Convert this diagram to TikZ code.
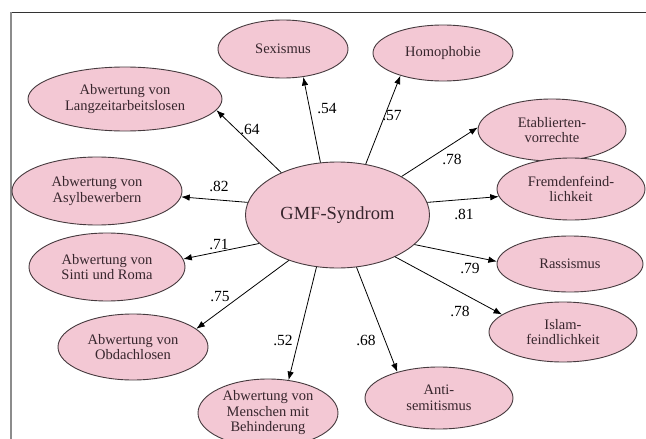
\documentclass[tikz,border=0pt]{standalone}
\usepackage{fontspec}
\setmainfont{Liberation Serif}
\usetikzlibrary{shapes.geometric}
\usetikzlibrary{arrows.meta}

\definecolor{factorpink}{RGB}{243,200,212}
\definecolor{factorline}{RGB}{70,58,62}
\definecolor{factortext}{RGB}{55,38,45}

\tikzset{
  factor/.style={ellipse, draw=factorline, fill=factorpink, line width=0.9pt,
    inner sep=0pt, align=center, text=factortext,
    font=\fontsize{14.5}{15.5}\selectfont},
  loading/.style={font=\fontsize{15.5}{15.5}\selectfont, inner sep=0pt},
  path/.style={line width=0.8pt, -{Latex[length=8.5pt,width=6.5pt]}}
}

\begin{document}
\begin{tikzpicture}[x=1pt,y=-1pt]

\clip (0,0) rectangle (646,439);
\fill[white] (0,0) rectangle (646,439);

% frame
\draw[line width=0.8pt, black!80] (11,12) -- (646,12);
\draw[line width=1.5pt, black!45] (11,12) -- (11,439);

% factors
\node[factor, minimum width=184pt, minimum height=106pt,
      font=\fontsize{18.5}{20}\selectfont] (gmf) at (337.5,215) {GMF-Syndrom};

\node[factor, minimum width=130pt, minimum height=58pt] (sex) at (283,49) {Sexismus};
\node[factor, minimum width=140pt, minimum height=56pt] (homo) at (443,53) {Homophobie};
\node[factor, minimum width=148pt, minimum height=62pt] (etab) at (552,130) {Etablierten-\\vorrechte};
\node[factor, minimum width=148pt, minimum height=62pt] (fremd) at (571,189) {Fremdenfeind-\\lichkeit};
\node[factor, minimum width=146pt, minimum height=56pt] (rass) at (570,264) {Rassismus};
\node[factor, minimum width=148pt, minimum height=60pt] (islam) at (563,332) {Islam-\\feindlichkeit};
\node[factor, minimum width=148pt, minimum height=62pt] (anti) at (439,398) {Anti-\\semitismus};
\node[factor, minimum width=140pt, minimum height=68pt] (behind) at (268,413) {Abwertung von\\Menschen mit\\Behinderung};
\node[factor, minimum width=150pt, minimum height=66pt] (obdach) at (133,347) {Abwertung von\\Obdachlosen};
\node[factor, minimum width=156pt, minimum height=68pt] (sinti) at (107,267) {Abwertung von\\Sinti und Roma};
\node[factor, minimum width=170pt, minimum height=68pt] (asyl) at (97,191) {Abwertung von\\Asylbewerbern};
\node[factor, minimum width=194pt, minimum height=64pt] (langzeit) at (125,99) {Abwertung von\\Langzeitarbeitslosen};

% paths
\draw[path] (gmf.143) -- (langzeit.-7);
\draw[path] (gmf.108) -- (sex.-54);
\draw[path] (gmf.61) -- (homo.208);
\draw[path] (gmf.31) -- (etab.178);
\draw[path] (gmf.8) -- (fremd.186);
\draw[path] (gmf.-21) -- (rass.178);
\draw[path] (gmf.-36) -- (islam.164);
\draw[path] (gmf.-70) -- (anti.148);
\draw[path] (gmf.-112) -- (behind.58);
\draw[path] (gmf.223) -- (obdach.16);
\draw[path] (gmf.200) -- (sinti.6);
\draw[path] (gmf.172) -- (asyl.-4);

% loadings
\node[loading] (l-langzeit) at (250,129) {.64};
\node[loading] (l-sex) at (327,109) {.54};
\node[loading] (l-homo) at (392,116) {.57};
\node[loading] (l-etab) at (452,159) {.78};
\node[loading] (l-fremd) at (464,214) {.81};
\node[loading] (l-rass) at (470,268) {.79};
\node[loading] (l-islam) at (460,311) {.78};
\node[loading] (l-anti) at (366,340) {.68};
\node[loading] (l-behind) at (283,340) {.52};
\node[loading] (l-obdach) at (220,297) {.75};
\node[loading] (l-sinti) at (219,244) {.71};
\node[loading] (l-asyl) at (219,186) {.82};

\end{tikzpicture}
\end{document}
